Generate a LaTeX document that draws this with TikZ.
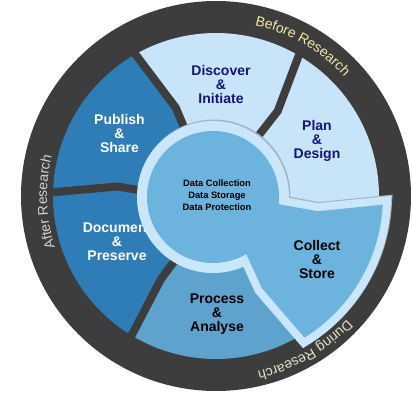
\documentclass[tikz,border=0pt]{standalone}
\usepackage{fontspec}
\setmainfont{Liberation Sans}
\usetikzlibrary{decorations.text}
\definecolor{ringdark}{HTML}{3D3D3D}
\definecolor{pale}{HTML}{C7E4F9}
\definecolor{deep}{HTML}{2F7DB7}
\definecolor{procblue}{HTML}{5EA2CE}
\definecolor{collblue}{HTML}{6CB3DD}
\definecolor{rimblue}{HTML}{C9E6FA}
\definecolor{navy}{HTML}{14147A}
\definecolor{shadowcol}{HTML}{A3B3BF}
\definecolor{beforecol}{HTML}{F0E8A8}
\definecolor{aftercol}{HTML}{D2D2D2}
\definecolor{duringcol}{HTML}{E6E0CC}
\newcommand\ringfont{\fontsize{14}{14}\selectfont}
\begin{document}
\begin{tikzpicture}[
  seglabel/.style={font=\fontsize{14}{14}\selectfont\bfseries, align=center, inner sep=0pt},
  centerlabel/.style={font=\fontsize{9.3}{12}\selectfont\bfseries, align=center, inner sep=0pt},
  sepline/.style={draw=ringdark, line width=8pt, line join=miter},
  ringtext/.style={decorate, decoration={text along path, text align=center, text={#1}}}
]
\useasboundingbox (-216pt,-198pt) rectangle (197pt,196pt);
% outer dark ring
\fill[ringdark] (0,0) circle[radius=195pt];
% segments
\fill[deep] (0,0) -- (177:70pt) -- (174.5:99pt) -- (179:163pt) arc[start angle=179, end angle=239, radius=163pt] -- (236.5:100pt) -- (238.5:70pt) -- cycle;
\fill[deep] (0,0) -- (115.5:70pt) -- (114.5:97pt) -- (120:163pt) arc[start angle=120, end angle=179, radius=163pt] -- (174.5:99pt) -- (177:70pt) -- cycle;
\fill[pale] (0,0) -- (55.5:70pt) -- (54:105pt) -- (60:163pt) arc[start angle=60, end angle=120, radius=163pt] -- (114.5:97pt) -- (115.5:70pt) -- cycle;
\fill[pale] (0,0) -- (-7:55pt) -- (-8.5:103pt) -- (-3:163pt) arc[start angle=-3, end angle=60, radius=163pt] -- (54:105pt) -- (55.5:70pt) -- cycle;
\fill[procblue] (0,0) -- (-121.5:70pt) -- (-123.5:100pt) -- (-121:163pt) arc[start angle=-121, end angle=-58, radius=163pt] -- (-63.5:103pt) -- (-62:55pt) -- cycle;
% dark separators
\draw[sepline] (177:60pt) -- (174.5:99pt) -- (179:172pt);
\draw[sepline] (115.5:60pt) -- (114.5:97pt) -- (120:172pt);
\draw[sepline] (55.5:60pt) -- (54:105pt) -- (60:172pt);
\draw[sepline] (-121.5:60pt) -- (-123.5:100pt) -- (-121:172pt);
% segment labels
\node[seglabel, text=navy] (discover) at (5pt,112pt) {Discover\\\&\\Initiate};
\node[seglabel, text=navy] (plan) at (101pt,55pt) {Plan\\\&\\Design};
\node[seglabel, text=white] (publish) at (-96.5pt,63pt) {Publish\\\&\\Share};
\node[seglabel, text=white] (document) at (-99pt,-46pt) {Document\\\&\\Preserve};
\node[seglabel, text=black] (process) at (1pt,-118pt) {Process\\\&\\Analyse};
% collect + centre (shadow, rim, fill)
\begin{scope}[shift={(0.9pt,0.9pt)}]
  \fill[shadowcol] (-3pt,-1pt) circle[radius=76.5pt];
  \draw[shadowcol, line width=16.5pt, line join=miter] (-7:55pt) -- (-8.5:103pt) -- (-3:167pt) arc[start angle=-3, end angle=-58, radius=167pt] -- (-63.5:103pt) -- (-62:55pt) -- cycle;
\end{scope}
\fill[rimblue] (-3pt,-1pt) circle[radius=76pt];
\draw[rimblue, line width=16pt, line join=miter] (-7:55pt) -- (-8.5:103pt) -- (-3:167pt) arc[start angle=-3, end angle=-58, radius=167pt] -- (-63.5:103pt) -- (-62:55pt) -- cycle;
\fill[collblue] (-7:55pt) -- (-8.5:103pt) -- (-3:167pt) arc[start angle=-3, end angle=-58, radius=167pt] -- (-63.5:103pt) -- (-62:55pt) -- cycle;
\fill[collblue] (-3pt,-1pt) circle[radius=66pt];
\node[seglabel, text=black] (collect) at (101pt,-63pt) {Collect\\\&\\Store};
\node[centerlabel] (centre) at (1pt,1pt) {Data Collection\\Data Storage\\Data Protection};
% ring texts
\path[ringtext={|\ringfont\color{beforecol}|Before Research}] (100:175pt) arc[start angle=100, end angle=20, radius=175pt];
\path[ringtext={|\ringfont\color{aftercol}|After Research}] (222:169pt) arc[start angle=222, end angle=142, radius=169pt];
\path[ringtext={|\ringfont\color{duringcol}|During Research}] (-20:180pt) arc[start angle=-20, end angle=-100, radius=180pt];
\end{tikzpicture}
\end{document}
